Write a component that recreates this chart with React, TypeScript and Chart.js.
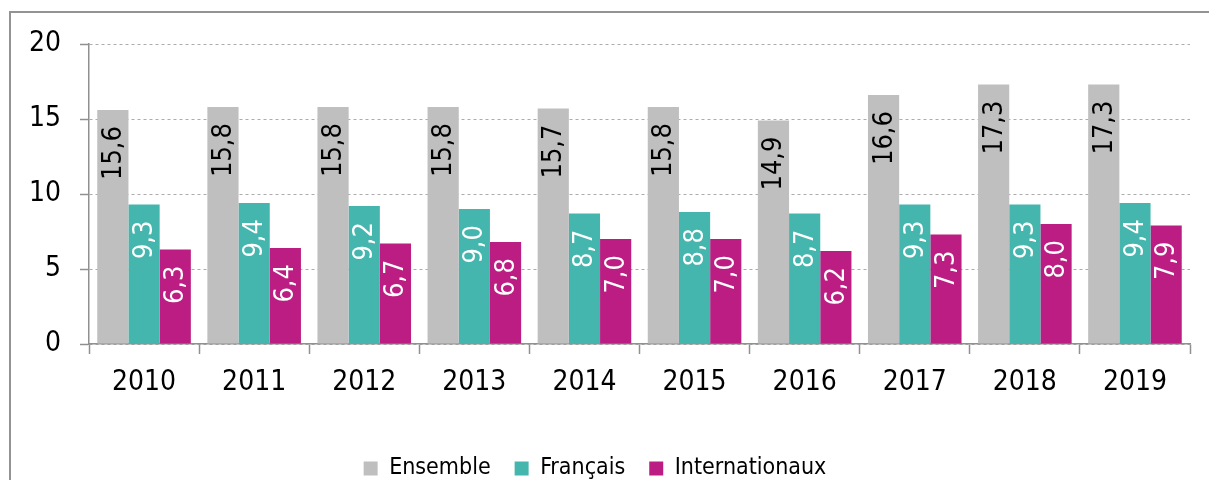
import React, { useEffect, useRef } from "react";
import { Chart, registerables } from "chart.js";

Chart.register(...registerables);

const years = ["2010", "2011", "2012", "2013", "2014", "2015", "2016", "2017", "2018", "2019"];
const ensemble = [15.6, 15.8, 15.8, 15.8, 15.7, 15.8, 14.9, 16.6, 17.3, 17.3];
const francais = [9.3, 9.4, 9.2, 9.0, 8.7, 8.8, 8.7, 9.3, 9.3, 9.4];
const internationaux = [6.3, 6.4, 6.7, 6.8, 7.0, 7.0, 6.2, 7.3, 8.0, 7.9];
const seriesNames = ["Ensemble", "Français", "Internationaux"];
const yTicks = [0, 5, 10, 15, 20];

const FONT = "'DejaVu Sans Condensed', 'Liberation Sans Narrow', sans-serif";
const COLORS = ["#bfbfbf", "#45b6ad", "#bc1d82"];
const LABEL_COLORS = ["#000000", "#ffffff", "#ffffff"];

const valueLabels = {
  id: "valueLabels",
  afterDatasetsDraw(chart: any) {
    const ctx = chart.ctx;
    chart.data.datasets.forEach((ds: any, di: number) => {
      const meta = chart.getDatasetMeta(di);
      meta.data.forEach((el: any, i: number) => {
        const v = ds.data[i];
        const txt = v.toFixed(1).replace(".", ",");
        ctx.save();
        ctx.translate(el.x, el.y + 16);
        ctx.rotate(-Math.PI / 2);
        ctx.font = `27px ${FONT}`;
        ctx.fillStyle = LABEL_COLORS[di];
        ctx.textAlign = "right";
        ctx.textBaseline = "middle";
        ctx.fillText(txt, 0, 1);
        ctx.restore();
      });
    });
  },
};

export default function App() {
  const ref = useRef<HTMLCanvasElement>(null);
  useEffect(() => {
    document.body.style.margin = "0";
    const chart = new Chart(ref.current as HTMLCanvasElement, {
      type: "bar",
      data: {
        labels: years,
        datasets: [ensemble, francais, internationaux].map((d, i) => ({
          label: seriesNames[i],
          data: d,
          backgroundColor: COLORS[i],
          borderWidth: 0,
          barPercentage: 1,
          categoryPercentage: 0.85,
        })),
      },
      options: {
        responsive: false,
        animation: false,
        layout: { padding: { top: 44, right: 19, left: 0, bottom: 0 } },
        plugins: {
          tooltip: { enabled: false },
          legend: {
            position: "bottom",
            labels: {
              boxWidth: 14,
              boxHeight: 14,
              padding: 24,
              color: "#000",
              font: { family: FONT, size: 23 },
            },
          },
        },
        scales: {
          x: {
            grid: {
              offset: true,
              drawOnChartArea: false,
              drawTicks: true,
              tickLength: 10,
              tickColor: "#909090",
              tickWidth: 1.5,
            },
            border: { display: true, color: "#909090", width: 1.5 },
            ticks: { color: "#000", font: { family: FONT, size: 28 }, padding: 12 },
            afterFit: (s: any) => {
              s.height = 89;
            },
          },
          y: {
            min: 0,
            max: 20,
            afterBuildTicks: (s: any) => {
              s.ticks = yTicks.map((v) => ({ value: v }));
            },
            grid: {
              color: "#acacac",
              lineWidth: 1,
              tickLength: 9,
              tickColor: "#909090",
              tickWidth: 1.5,
              tickBorderDash: [],
            },
            border: { display: true, color: "#909090", width: 1.5, dash: [3, 3] },
            ticks: { color: "#000", font: { family: FONT, size: 28 }, padding: 19 },
            afterFit: (s: any) => {
              s.width = 89;
            },
          },
        },
      },
      plugins: [valueLabels],
    });
    return () => chart.destroy();
  }, []);

  return (
    <div style={{ position: "fixed", left: 0, top: 0, width: 1209, height: 480, overflow: "hidden", background: "#fff" }}>
      <div
        style={{
          position: "absolute",
          left: 9,
          top: 11,
          width: 1400,
          height: 700,
          border: "2px solid #939393",
          boxSizing: "border-box",
        }}
      />
      <canvas
        ref={ref}
        width={1209}
        height={490}
        style={{ position: "absolute", left: 0, top: 0, width: 1209, height: 490 }}
      />
    </div>
  );
}
